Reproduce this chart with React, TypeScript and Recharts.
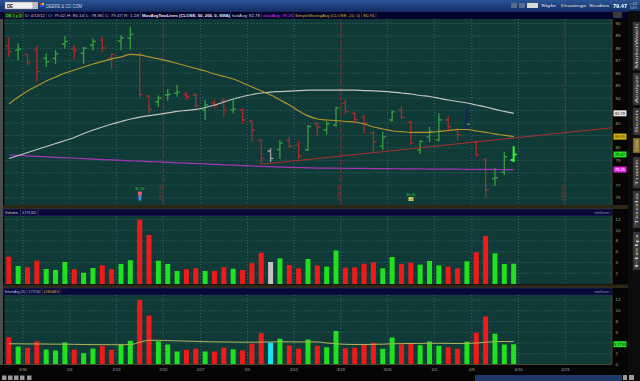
import React from "react";
import {
  ComposedChart,
  Bar,
  Line,
  XAxis,
  YAxis,
  CartesianGrid,
  ReferenceLine,
  ReferenceDot,
  Cell,
} from "recharts";

// daily bars, DE 1/26/12 - 4/13/12
const dates = [
  "1/26", "1/27", "1/30", "1/31", "2/1", "2/2", "2/3", "2/6", "2/7", "2/8",
  "2/9", "2/10", "2/13", "2/14", "2/15", "2/16", "2/17", "2/21", "2/22", "2/23",
  "2/24", "2/27", "2/28", "2/29", "3/1", "3/2", "3/5", "3/6", "3/7", "3/8",
  "3/9", "3/12", "3/13", "3/14", "3/15", "3/16", "3/19", "3/20", "3/21", "3/22",
  "3/23", "3/26", "3/27", "3/28", "3/29", "3/30", "4/2", "4/3", "4/4", "4/5",
  "4/9", "4/10", "4/11", "4/12", "4/13",
];
const opens = [
  88.19, 87.85, 87.51, 87.87, 87.2, 87.2, 88.35, 87.99, 87.6, 88.27,
  88.67, 87.23, 88.59, 88.83, 87.47, 84.17, 83.71, 84.25, 84.41, 84.29,
  84.25, 83.05, 83.61, 83.77, 83.05, 83.05, 82.16, 80.6, 79.75, 79.87,
  80.6, 80.23, 79.83, 81.92, 81.44, 81.84, 83.61, 82.78, 82.48, 81.2,
  80.15, 82.24, 83.05, 82.08, 79.83, 80.88, 80.64, 82.24, 81.44, 81.6,
  80.47, 79.03, 77.54, 78.06, 79.02,
];
const highs = [
  88.94, 88.41, 87.59, 88.23, 87.6, 87.87, 88.99, 88.27, 88.11, 88.81,
  88.94, 87.63, 89.08, 89.74, 87.71, 84.25, 84.21, 84.73, 85.06, 84.52,
  84.41, 83.85, 83.85, 83.99, 83.85, 83.21, 82.24, 80.68, 79.97, 80.64,
  80.9, 80.55, 81.84, 82.08, 82.16, 83.31, 83.85, 82.93, 82.64, 81.36,
  81.3, 83.01, 83.33, 82.16, 80.64, 81.7, 82.78, 82.56, 81.58, 83.29,
  80.58, 79.21, 78.36, 79.69, 80.14,
];
const lows = [
  87.33, 87.07, 86.66, 85.32, 86.5, 86.74, 87.97, 87.11, 86.74, 87.83,
  87.73, 86.34, 87.87, 87.87, 84.05, 82.73, 83.29, 83.77, 84.12, 83.85,
  83.26, 82.24, 83.17, 82.48, 82.77, 81.96, 80.5, 78.68, 78.87, 79.11,
  79.95, 79.11, 79.75, 81.0, 81.04, 81.7, 82.73, 82.04, 81.17, 79.69,
  79.83, 82.11, 82.32, 80.23, 79.51, 80.5, 80.5, 81.3, 80.6, 81.48,
  79.29, 75.97, 76.94, 77.82, 78.86,
];
const closes = [
  87.73, 87.93, 86.86, 86.13, 86.91, 87.55, 88.55, 87.83, 88.01, 88.55,
  88.03, 87.51, 88.83, 89.12, 84.29, 83.09, 84.01, 84.29, 84.49, 84.13,
  83.37, 83.45, 83.41, 83.05, 83.13, 82.24, 81.44, 79.15, 79.15, 80.39,
  80.13, 79.35, 81.72, 81.68, 81.92, 83.21, 82.91, 82.28, 81.96, 80.5,
  80.88, 82.89, 82.46, 80.39, 80.53, 81.32, 82.24, 81.7, 81.04, 81.9,
  79.43, 76.62, 77.6, 79.29, 79.47,
];
// volume, millions of shares
const volumes = [
  5.08, 3.35, 3.1, 4.34, 2.79, 2.6, 4.09, 2.73, 2.11, 2.98,
  3.47, 2.73, 3.72, 4.4, 12.0, 9.12, 4.34, 3.72, 2.42, 2.73,
  2.91, 2.42, 2.42, 3.1, 2.85, 2.6, 3.84, 5.83, 4.09, 4.77,
  3.53, 2.91, 4.65, 3.47, 3.22, 6.23, 3.04, 3.1, 3.78, 4.03,
  2.91, 5.02, 3.72, 3.97, 3.6, 4.28, 3.47, 3.22, 2.91, 4.22,
  5.89, 8.93, 5.7, 3.72, 3.7733,
];
const sma20 = [
  83.53, 84.09, 84.57, 84.98, 85.38, 85.7, 86.02, 86.26, 86.5, 86.74,
  86.95, 87.15, 87.31, 87.51, 87.47, 87.31, 87.15, 86.99, 86.78, 86.58,
  86.38, 86.18, 85.94, 85.74, 85.54, 85.22, 84.9, 84.57, 84.25, 83.85,
  83.45, 82.97, 82.57, 82.32, 82.24, 82.2, 82.12, 82.08, 81.92, 81.68,
  81.52, 81.36, 81.3, 81.24, 81.24, 81.25, 81.32, 81.4, 81.48, 81.48,
  81.36, 81.24, 81.12, 81.0, 80.91,
];
const sma50 = [
  79.15, 79.39, 79.63, 79.87, 80.11, 80.35, 80.59, 80.84, 81.16, 81.44,
  81.68, 81.92, 82.12, 82.32, 82.48, 82.6, 82.7, 82.81, 82.93, 83.01,
  83.09, 83.25, 83.45, 83.69, 83.93, 84.13, 84.29, 84.41, 84.49, 84.53,
  84.57, 84.61, 84.64, 84.65, 84.65, 84.65, 84.65, 84.64, 84.61, 84.59,
  84.55, 84.49, 84.41, 84.33, 84.21, 84.13, 83.99, 83.85, 83.73, 83.61,
  83.45, 83.29, 83.09, 82.93, 82.78,
];
const sma200 = [
  79.43, 79.4, 79.36, 79.32, 79.28, 79.24, 79.21, 79.17, 79.13, 79.1,
  79.06, 79.03, 79.0, 78.96, 78.93, 78.9, 78.87, 78.83, 78.8, 78.77,
  78.74, 78.71, 78.67, 78.64, 78.61, 78.58, 78.55, 78.51, 78.49, 78.46,
  78.44, 78.42, 78.4, 78.38, 78.38, 78.37, 78.36, 78.35, 78.35, 78.34,
  78.33, 78.33, 78.32, 78.31, 78.31, 78.3, 78.3, 78.29, 78.29, 78.28,
  78.28, 78.27, 78.27, 78.26, 78.26,
];
const volAvg20 = [
  3.85, 3.85, 3.82, 3.82, 3.8, 3.78, 3.78, 3.75, 3.72, 3.7,
  3.7, 3.68, 3.68, 3.7, 4.15, 4.5, 4.5, 4.45, 4.4, 4.35,
  4.3, 4.25, 4.22, 4.2, 4.18, 4.15, 4.15, 4.18, 4.2, 4.25,
  4.22, 4.2, 4.22, 4.2, 4.0, 3.85, 3.75, 3.72, 3.72, 3.75,
  3.78, 3.85, 3.88, 3.92, 3.92, 3.95, 3.95, 3.92, 3.9, 3.92,
  4.0, 4.15, 4.25, 4.28, 4.28,
];

// week starts (bar slot index) and their labels; slots past 54 are future days
const weekStartIdx = [2, 7, 12, 17, 21, 26, 31, 36, 41, 46, 50, 55, 60];
const weekLabels = ["1/30", "2/6", "2/13", "2/20", "2/27", "3/5", "3/12", "3/19", "3/26", "4/2", "4/9", "4/16", "4/23"];
const expiryIdx = [16, 35, 59];
const expiryLabels = ["2/17/12", "3/16/12", "4/20/12"];
const eventIdx = [14, 43];
const eventLabels = ["$1.30", "$0.46"];
const trendStart = { i: 27, price: 78.68 };
const trendEnd = { i: 64.5, price: 81.62 };

const rows = dates.map((date, i) => ({
  i,
  date,
  open: opens[i],
  high: highs[i],
  low: lows[i],
  close: closes[i],
  vol: volumes[i],
  sma20: sma20[i],
  sma50: sma50[i],
  sma200: sma200[i],
  volAvg: volAvg20[i],
  dir: i === 0 ? Math.sign(closes[0] - opens[0]) : Math.sign(closes[i] - closes[i - 1]),
}));
const last = rows[rows.length - 1];

const X_DOMAIN: [number, number] = [-0.5, 64.5];
const PRICE_DOMAIN: [number, number] = [75.41, 90.36];
const VOL_DOMAIN: [number, number] = [0, 12.65];
const AVG_DOMAIN: [number, number] = [0, 12.93];
const gridX = weekStartIdx.map((i) => i - 0.5);
const FONT = "'Liberation Sans', Arial, sans-serif";

const priceBoxes = [
  { value: last.sma50, fill: "#e4e4e4", color: "#111" },
  { value: last.sma20, fill: "#d8b418", color: "#111" },
  { value: last.close, fill: "#22e022", color: "#111" },
  { value: last.sma200, fill: "#e024e0", color: "#fff" },
];
const avgBoxes = [{ value: last.vol, fill: "#22e022", color: "#111" }];

const ValueTick = (props: any) => {
  const { x, y, payload, boxes, decimals } = props;
  const box = boxes.find((b: any) => Math.abs(b.value - payload.value) < 1e-6);
  if (box) {
    return (
      <g>
        <rect x={x + 1.5} y={y - 3} width={13} height={6} fill={box.fill} />
        <text x={x + 8} y={y + 1.5} fontSize={4} fontFamily={FONT} textAnchor="middle" fill={box.color}>
          {payload.value.toFixed(decimals)}
        </text>
      </g>
    );
  }
  return (
    <text x={x + 3.5} y={y + 1.5} fontSize={4.4} fontFamily={FONT} fill="#a8a890">
      {payload.value}
    </text>
  );
};

const OhlcShape = (props: any) => {
  const { x, y, width, height, payload } = props;
  const top = Math.min(y, y + height);
  const span = Math.abs(height) || 0.5;
  const range = payload.high - payload.low || 1;
  const yOf = (v: number) => top + ((payload.high - v) / range) * span;
  const cx = x + width / 2;
  const isLast = payload.i === rows.length - 1;
  let color = payload.dir > 0 ? "#35a03c" : payload.dir < 0 ? "#a82c2c" : "#a0a0a0";
  if (isLast) color = "#2cff2c";
  if (payload.i === 49) color = "#1c1c70";
  const sw = isLast ? 2 : 1.3;
  return (
    <g stroke={color} strokeWidth={sw}>
      <line x1={cx} x2={cx} y1={top} y2={top + span} />
      <line x1={cx - 3} x2={cx} y1={yOf(payload.open)} y2={yOf(payload.open)} />
      <line
        x1={cx}
        x2={cx + 3}
        y1={yOf(payload.close)}
        y2={yOf(payload.close)}
        stroke={payload.i === 49 ? "#35a03c" : color}
      />
    </g>
  );
};

const ExpiryLabel = (props: any) => {
  const { viewBox, text } = props;
  if (!viewBox) return null;
  const { x, y, height } = viewBox;
  return (
    <text
      transform={`translate(${x - 1.3},${y + height - 4}) rotate(-90)`}
      fontSize={4}
      fontFamily={FONT}
      fill="#a83030"
      textLength={16}
      lengthAdjust="spacingAndGlyphs"
    >
      {text}
    </text>
  );
};

const EventMark = (props: any) => {
  const { cx, cy, kind, text } = props;
  if (kind === "earnings") {
    return (
      <g>
        <text x={cx} y={cy - 6} fontSize={3.6} fontFamily={FONT} fill="#3cc43c" textAnchor="middle">
          {text}
        </text>
        <rect x={cx - 2} y={cy - 4.5} width={4} height={4} fill="#e05a7a" />
        <rect x={cx - 1.5} y={cy - 0.5} width={3} height={5} fill="#4a8ae0" />
      </g>
    );
  }
  return (
    <g>
      <text x={cx} y={cy - 4} fontSize={3.6} fontFamily={FONT} fill="#3cc43c" textAnchor="middle">
        {text}
      </text>
      <rect x={cx - 2.5} y={cy - 2.5} width={5} height={4} fill="#c8d86a" />
      <rect x={cx - 0.5} y={cy - 1} width={2} height={2} fill="#d08020" />
    </g>
  );
};

const volColor = (dir: number, flat: string) => (dir > 0 ? "#20e020" : dir < 0 ? "#f01a1a" : flat);

const Txt = ({ x, y, w, s = 4, fill = "#c8c8c8", bold = false, children }: any) => (
  <text
    x={x}
    y={y}
    fontSize={s}
    fill={fill}
    fontWeight={bold ? "bold" : "normal"}
    textLength={w}
    lengthAdjust="spacingAndGlyphs"
  >
    {children}
  </text>
);

const sideTabs = [
  [22, 70, "MarketWatch"],
  [73, 105, "Analyze"],
  [108, 135, "Scan"],
  [138, 153, "Charts"],
  [157, 188, "Trade"],
  [191, 228, "Tools"],
  [232, 270, "Help"],
];

const Chrome = () => (
  <svg width={640} height={381} style={{ position: "absolute", left: 0, top: 0 }} fontFamily={FONT}>
    <defs>
      <linearGradient id="titleGrad" x1="0" y1="0" x2="0" y2="1">
        <stop offset="0" stopColor="#2c5596" />
        <stop offset="1" stopColor="#112f68" />
      </linearGradient>
    </defs>
    <rect width={640} height={381} fill="#050505" />
    {/* title bar */}
    <rect width={640} height={11} fill="url(#titleGrad)" />
    <rect x={5} y={2} width={28} height={7} fill="#eeeeee" stroke="#777" strokeWidth={0.5} />
    <Txt x={7} y={7.6} w={6} s={5} fill="#111" bold>DE</Txt>
    <rect x={33} y={2} width={5} height={7} fill="#bbb" />
    <rect x={40} y={3} width={2} height={2} fill="#e03030" />
    <rect x={42} y={3} width={2} height={2} fill="#e0d030" />
    <rect x={40} y={5} width={4} height={2} fill="#3050e0" />
    <Txt x={46} y={7.6} w={36} s={4.6} fill="#c4cce0">DEERE &amp; CO COM</Txt>
    <rect x={511} y={3} width={6} height={5} fill="#5a6a8a" />
    <rect x={519} y={3} width={6} height={5} fill="#5a6a8a" />
    <rect x={527} y={3} width={11} height={5} fill="#d8d8d8" />
    <Txt x={541} y={7.3} w={15} s={4} fill="#e0e0e0">Style</Txt>
    <Txt x={561} y={7.3} w={25} s={4} fill="#e0e0e0">Drawings</Txt>
    <Txt x={589} y={7.3} w={20} s={4} fill="#e0e0e0">Studies</Txt>
    <Txt x={613} y={8} w={14} s={5.2} fill="#ffffff" bold>79.47</Txt>
    <Txt x={629} y={5} w={8} s={3} fill="#9fdc9f">+.43</Txt>
    <Txt x={629} y={9} w={8} s={3} fill="#c8c8c8">.54%</Txt>
    {/* info bar */}
    <rect x={0} y={11} width={628} height={8} fill="#02022c" />
    <line x1={0} x2={628} y1={11.3} y2={11.3} stroke="#3a4a8a" strokeWidth={0.6} />
    <rect x={5} y={12.3} width={18} height={5.6} fill="#0c2a10" stroke="#555" strokeWidth={0.4} />
    <Txt x={6} y={16.8} w={16} s={4} fill="#3cd03c" bold>DE 1 y D</Txt>
    <Txt x={25} y={16.8} w={20}>D: 4/13/12</Txt>
    <Txt x={48} y={16.8} w={17}>O: 79.02</Txt>
    <Txt x={67} y={16.8} w={17}>H: 80.14</Txt>
    <Txt x={86} y={16.8} w={17}>L: 78.86</Txt>
    <Txt x={105} y={16.8} w={17}>C: 79.47</Txt>
    <Txt x={124} y={16.8} w={15}>R: 1.28</Txt>
    <Txt x={142} y={16.8} w={88} fill="#f0f0f0" bold>MovAvgTwoLines (CLOSE, 50, 200, 0, SMA)</Txt>
    <Txt x={232} y={16.8} w={28} fill="#d8d8d8">fastAvg: 82.78</Txt>
    <Txt x={263} y={16.8} w={30} fill="#e030e0">slowAvg: 78.26</Txt>
    <Txt x={295} y={16.8} w={65} fill="#d8b418">SimpleMovingAvg (CLOSE, 20, 0)</Txt>
    <Txt x={363} y={16.8} w={12} fill="#d8b418">80.91</Txt>
    {[23.5, 46.5, 65.5, 84.5, 103.5, 122.5, 140.5, 230.5, 261.5, 293.5, 361.5, 376].map((lx) => (
      <line key={lx} x1={lx} x2={lx} y1={12} y2={18.5} stroke="#444466" strokeWidth={0.5} />
    ))}
    <rect x={613} y={12} width={9} height={6} fill="#3a3a3a" />
    {/* left frame strip */}
    <rect x={0} y={19} width={3} height={346} fill="#4c4c4c" />
    {/* panel separators and headers */}
    <rect x={3} y={205} width={625} height={4} fill="#2c2616" />
    <rect x={3} y={209} width={609} height={7} fill="#07073a" stroke="#3c3c70" strokeWidth={0.5} />
    <Txt x={5} y={214.3} w={13} s={3.4} fill="#d0d0d0">Volume</Txt>
    <line x1={20.5} x2={20.5} y1={209.5} y2={215.5} stroke="#55557a" strokeWidth={0.5} />
    <Txt x={22} y={214.3} w={14} s={3.1} fill="#d0d0d0">3,773,302</Txt>
    <line x1={38} x2={38} y1={209.5} y2={215.5} stroke="#55557a" strokeWidth={0.5} />
    <Txt x={594} y={214.3} w={16} s={3.2} fill="#9a9ab0">{"<millions>"}</Txt>
    <rect x={3} y={284.5} width={625} height={3.5} fill="#2c2616" />
    <rect x={3} y={288} width={609} height={7} fill="#07073a" stroke="#3c3c70" strokeWidth={0.5} />
    <Txt x={4.5} y={293.3} w={21} s={3.2} fill="#d0d0d0">VolumeAvg (20)</Txt>
    <line x1={27} x2={27} y1={288.5} y2={294.5} stroke="#55557a" strokeWidth={0.5} />
    <Txt x={28.5} y={293.3} w={12} s={2.7} fill="#d0d0d0">3,773,302</Txt>
    <line x1={42} x2={42} y1={288.5} y2={294.5} stroke="#55557a" strokeWidth={0.5} />
    <Txt x={43.5} y={293.3} w={15} s={2.6} fill="#e0d040">4,280,608.9</Txt>
    <line x1={60} x2={60} y1={288.5} y2={294.5} stroke="#55557a" strokeWidth={0.5} />
    <Txt x={594} y={293.3} w={16} s={3.2} fill="#9a9ab0">{"<millions>"}</Txt>
    {/* watermark */}
    <Txt x={5} y={25.5} w={77} s={3.8} fill="#7f9393">2012 © TD Ameritrade IP Company, Inc.</Txt>
    {/* right sidebar */}
    <rect x={628} y={11} width={12} height={370} fill="#0c0c0c" />
    {sideTabs.map(([a, b, label]: any) => (
      <g key={label}>
        <rect
          x={633}
          y={a}
          width={7}
          height={b - a}
          fill={label === "Charts" ? "#8a7a30" : "#3a3a3a"}
          stroke="#222"
          strokeWidth={0.5}
        />
        <text
          transform={`translate(638.3,${b - 2}) rotate(-90)`}
          fontSize={3.6}
          fill="#cfcfcf"
          textLength={b - a - 4}
          lengthAdjust="spacingAndGlyphs"
        >
          {label}
        </text>
      </g>
    ))}
    {/* bottom toolbar */}
    {[2, 8, 14, 20, 27].map((bx) => (
      <rect key={bx} x={bx} y={375.5} width={4.5} height={4.5} fill="#9a9a9a" />
    ))}
    <rect x={475} y={375} width={147} height={6} fill="#1e3868" />
    <rect x={623} y={375} width={4} height={5} fill="#9a9a9a" />
    <rect x={629} y={375} width={5} height={5} fill="#9a9a9a" />
  </svg>
);

const PriceChart = () => (
  <div style={{ position: "absolute", left: 0, top: 19 }}>
    <ComposedChart width={628} height={186} data={rows} margin={{ top: 0, right: 0, bottom: 0, left: 4.3 }}>
      <CartesianGrid
        fill="#0f3a38"
        fillOpacity={1}
        stroke="#3a6664"
        strokeDasharray="1 2"
        horizontalValues={[76, 77, 78, 79, 80, 81, 82, 83, 84, 85, 86, 87, 88, 89, 90]}
        verticalValues={gridX}
      />
      <XAxis type="number" dataKey="i" domain={X_DOMAIN} allowDataOverflow hide />
      <YAxis
        orientation="right"
        width={16}
        type="number"
        domain={PRICE_DOMAIN}
        allowDataOverflow
        ticks={[76, 77, 79, 80, 82, 84, 85, 86, 87, 88, 89, 90, ...priceBoxes.map((b) => b.value)]}
        interval={0}
        tickSize={0}
        tickMargin={0}
        tickLine={false}
        axisLine={{ stroke: "#4a4428" }}
        tick={<ValueTick boxes={priceBoxes} decimals={2} />}
      />
      {expiryIdx.map((ei, k) => (
        <ReferenceLine
          key={ei}
          x={ei + 0.5}
          stroke="#8e2424"
          strokeWidth={1}
          strokeDasharray="5 3"
          label={<ExpiryLabel text={expiryLabels[k]} />}
        />
      ))}
      <Line dataKey="sma200" type="monotone" stroke="#a436b4" strokeWidth={1.2} dot={false} isAnimationActive={false} />
      <Line dataKey="sma50" type="monotone" stroke="#c4c4c4" strokeWidth={1.2} dot={false} isAnimationActive={false} />
      <Line dataKey="sma20" type="monotone" stroke="#ae962a" strokeWidth={1.2} dot={false} isAnimationActive={false} />
      <ReferenceLine
        segment={[
          { x: trendStart.i, y: trendStart.price },
          { x: trendEnd.i, y: trendEnd.price },
        ]}
        stroke="#a83030"
        strokeWidth={1}
      />
      <Bar dataKey={(d: any) => [d.low, d.high]} barSize={7} shape={OhlcShape} isAnimationActive={false} />
      {eventIdx.map((ei, k) => (
        <ReferenceDot
          key={ei}
          x={ei}
          y={k === 0 ? 76.13 : 75.85}
          shape={(p: any) => <EventMark {...p} kind={k === 0 ? "earnings" : "dividend"} text={eventLabels[k]} />}
        />
      ))}
    </ComposedChart>
  </div>
);

const VolumeChart = () => (
  <div style={{ position: "absolute", left: 0, top: 216 }}>
    <ComposedChart width={628} height={68} data={rows} margin={{ top: 0, right: 0, bottom: 0, left: 4.3 }}>
      <CartesianGrid
        fill="#0f3a38"
        fillOpacity={1}
        stroke="#3a6664"
        strokeDasharray="1 2"
        horizontalValues={[2, 4, 6, 8, 10, 12]}
        verticalValues={gridX}
      />
      <XAxis type="number" dataKey="i" domain={X_DOMAIN} allowDataOverflow hide />
      <YAxis
        orientation="right"
        width={16}
        type="number"
        domain={VOL_DOMAIN}
        allowDataOverflow
        ticks={[2, 4, 6, 8, 10, 12]}
        interval={0}
        tickSize={0}
        tickMargin={0}
        tickLine={false}
        axisLine={{ stroke: "#4a4428" }}
        tick={<ValueTick boxes={[]} decimals={0} />}
      />
      <Bar dataKey="vol" barSize={5} isAnimationActive={false}>
        {rows.map((r) => (
          <Cell key={r.i} fill={volColor(r.dir, "#c4c4c4")} />
        ))}
      </Bar>
    </ComposedChart>
  </div>
);

const WeekTick = (props: any) => {
  const { x, y, payload } = props;
  const k = gridX.indexOf(payload.value);
  return (
    <text x={x} y={y + 6.2} fontSize={4.2} fontFamily={FONT} fill="#a8a8a8" textAnchor="middle">
      {k >= 0 ? weekLabels[k] : ""}
    </text>
  );
};

const VolumeAvgChart = () => (
  <div style={{ position: "absolute", left: 0, top: 295 }}>
    <ComposedChart width={628} height={78} data={rows} margin={{ top: 0, right: 0, bottom: 0, left: 4.3 }}>
      <CartesianGrid
        fill="#0f3a38"
        fillOpacity={1}
        stroke="#3a6664"
        strokeDasharray="1 2"
        horizontalValues={[2, 4, 6, 8, 10, 12]}
        verticalValues={gridX}
      />
      <XAxis
        type="number"
        dataKey="i"
        domain={X_DOMAIN}
        allowDataOverflow
        ticks={gridX}
        interval={0}
        height={8.5}
        tickSize={0}
        tickMargin={0}
        tickLine={false}
        axisLine={{ stroke: "#4a4428" }}
        tick={<WeekTick />}
      />
      <YAxis
        orientation="right"
        width={16}
        type="number"
        domain={AVG_DOMAIN}
        allowDataOverflow
        ticks={[0, 2, 6, 8, 10, 12, last.vol]}
        interval={0}
        tickSize={0}
        tickMargin={0}
        tickLine={false}
        axisLine={{ stroke: "#4a4428" }}
        tick={<ValueTick boxes={avgBoxes} decimals={4} />}
      />
      <Bar dataKey="vol" barSize={5} isAnimationActive={false}>
        {rows.map((r) => (
          <Cell key={r.i} fill={volColor(r.dir, "#1ae4f0")} />
        ))}
      </Bar>
      <Line dataKey="volAvg" type="monotone" stroke="#b4b45a" strokeWidth={1} dot={false} isAnimationActive={false} />
    </ComposedChart>
  </div>
);

export default function App() {
  return (
    <div style={{ position: "relative", width: 640, height: 381, overflow: "hidden", background: "#050505" }}>
      <style>{"body{margin:0;background:#050505;}"}</style>
      <Chrome />
      <PriceChart />
      <VolumeChart />
      <VolumeAvgChart />
    </div>
  );
}
